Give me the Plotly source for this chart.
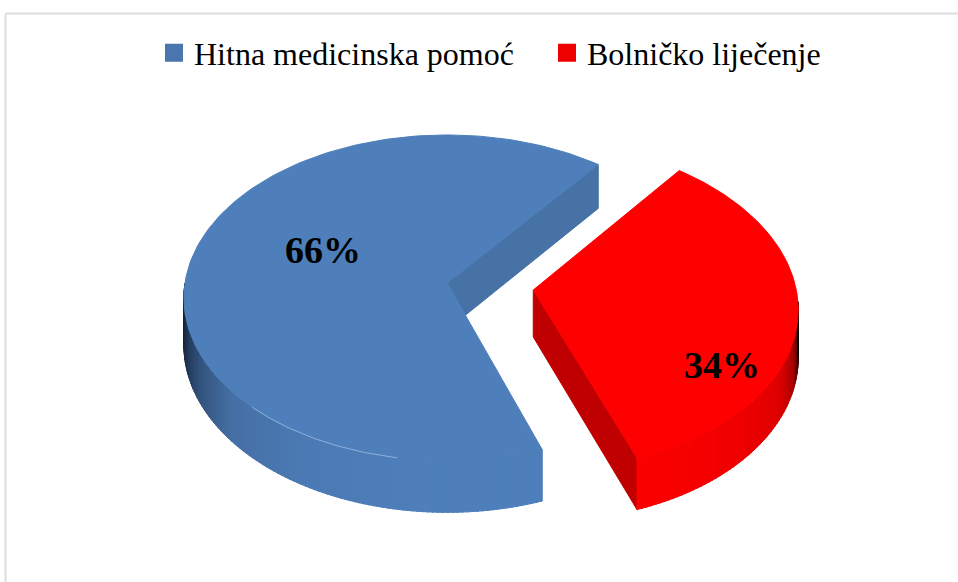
import numpy as np
import plotly.graph_objects as go

categories = ["Hitna medicinska pomoć", "Bolničko liječenje"]
values = [66, 34]
colors_top = ["#4e7fbb", "#fe0000"]
legend_colors = ["#4a76ad", "#ee0000"]
label_pos = [(323, 253), (722, 368)]

# projection of the tilted pie onto the page
CX, CY, RX, RY, K, DEPTH = 447, 283, 262, 161.5, 0.0909, 47
START = 51.8
OFFSET = (0.328, -0.043)  # explosion of second slice


def proj(u, v, drop=0.0):
    w = 1 / (1 + K * v)
    return CX + RX * u * w, CY - RY * v * w + drop * w


def rim(a, off=(0, 0), drop=0.0):
    t = np.radians(a)
    return proj(np.cos(t) + off[0], np.sin(t) + off[1], drop)


def lerp_color(a, stops):
    ang = [s[0] for s in stops]
    rgb = [np.interp(a, ang, [s[1][i] for s in stops]) for i in range(3)]
    return "rgb(%d,%d,%d)" % tuple(int(c) for c in rgb)


blue_side = [(182, (18, 28, 44)), (192, (28, 46, 72)), (205, (50, 82, 124)), (220, (70, 112, 166)),
             (240, (76, 122, 180)), (262, (78, 127, 187)), (291, (78, 127, 187))]
red_side = [(-70, (252, 0, 0)), (-45, (240, 0, 0)), (-28, (222, 0, 0)), (-18, (170, 0, 0)),
            (-10, (70, 0, 0)), (-5, (0, 0, 0))]

shares = np.array(values) / sum(values) * 360
b0, b1 = START, START + shares[0]
r0, r1 = b1 - 360, START

fig = go.Figure()


def poly(xs, ys, color):
    fig.add_trace(go.Scatter(x=list(xs), y=list(ys), mode="lines", fill="toself", fillcolor=color,
                             line=dict(color=color, width=1), showlegend=False, hoverinfo="skip"))


def face(a0, a1, off, color):
    arc = np.linspace(a0, a1, 160)
    p = [rim(a, off) for a in arc]
    apex = proj(off[0], off[1])
    poly([apex[0]] + [q[0] for q in p] + [apex[0]], [apex[1]] + [q[1] for q in p] + [apex[1]], color)


def side(a0, a1, off, stops, step=1.0):
    for a in np.arange(a0, a1, step):
        e = min(a + step + 0.3, a1)
        arc = np.linspace(a, e, 3)
        top = [rim(x, off) for x in arc]
        bot = [rim(x, off, DEPTH) for x in arc[::-1]]
        pts = top + bot + top[:1]
        poly([q[0] for q in pts], [q[1] for q in pts], lerp_color(a + step / 2, stops))


def cut_wall(angle, off, color):
    a = proj(off[0], off[1])
    b = rim(angle, off)
    pts = [a, b, rim(angle, off, DEPTH), (a[0], a[1] + DEPTH), a]
    poly([q[0] for q in pts], [q[1] for q in pts], color)


# blue slice
cut_wall(b0, (0, 0), "#4672a6")
side(180, b1, (0, 0), blue_side)
face(b0, b1, (0, 0), colors_top[0])
hl = [rim(a) for a in np.linspace(226, 260, 40)]
fig.add_trace(go.Scatter(x=[q[0] for q in hl], y=[q[1] for q in hl], mode="lines",
                         line=dict(color="#9dbde2", width=0.8), showlegend=False, hoverinfo="skip"))

# red slice
cut_wall(r0, OFFSET, "#c00000")
side(r0, -4, OFFSET, red_side)
face(r0, r1, OFFSET, colors_top[1])

# percentage labels
for v, (x, y) in zip(values, label_pos):
    fig.add_trace(go.Scatter(x=[x], y=[y], mode="text", text=[f"<b>{v}%</b>"], showlegend=False,
                             textfont=dict(family="Liberation Serif", size=38, color="black"),
                             hoverinfo="skip"))

# legend entries, one legend per entry
for i, (name, col) in enumerate(zip(categories, legend_colors)):
    fig.add_trace(go.Scatter(x=[None], y=[None], mode="markers", name=name,
                             legend="legend" if i == 0 else "legend2",
                             marker=dict(symbol="square", size=16, color=col, line=dict(color=col, width=2))))

legend_font = dict(family="Liberation Serif", size=32, color="black")
fig.update_layout(
    width=958, height=582, margin=dict(l=0, r=0, t=0, b=0),
    paper_bgcolor="white", plot_bgcolor="white",
    xaxis=dict(range=[0, 958], visible=False, fixedrange=True),
    yaxis=dict(range=[582, 0], visible=False, fixedrange=True),
    legend=dict(x=154 / 958, xanchor="left", y=1 - 53 / 582, yanchor="middle", font=legend_font,
                itemwidth=30, bgcolor="rgba(0,0,0,0)"),
    legend2=dict(x=547 / 958, xanchor="left", y=1 - 53 / 582, yanchor="middle", font=legend_font,
                 itemwidth=30, bgcolor="rgba(0,0,0,0)"),
    shapes=[
        dict(type="line", xref="x", yref="y", x0=5.5, x1=5.5, y0=13.5, y1=582, line=dict(color="#dddddd", width=2)),
        dict(type="line", xref="x", yref="y", x0=5.5, x1=958, y0=13.5, y1=13.5, line=dict(color="#dddddd", width=2)),
    ],
)
fig.write_html("out.html", config=dict(displayModeBar=False),
               post_script="document.body.style.margin='0';")
